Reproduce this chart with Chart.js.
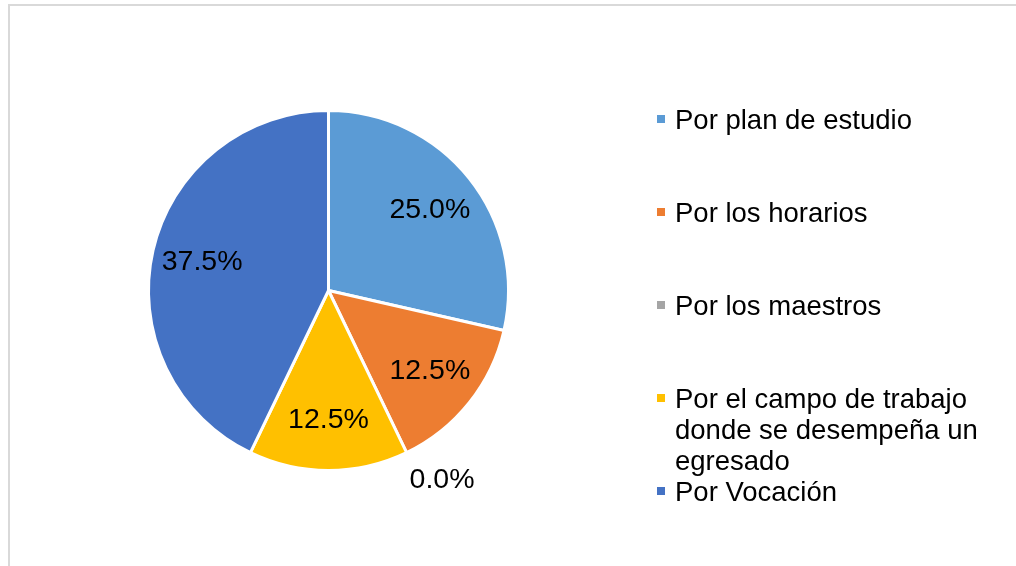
<!DOCTYPE html>
<html>
<head>
<meta charset="utf-8">
<script src="https://cdn.jsdelivr.net/npm/chart.js@4"></script>
<style>
  html, body { margin: 0; padding: 0; background: #fff; overflow: hidden; }
  #frame { position: absolute; left: 8px; top: 4px; width: 1300px; height: 700px; border: 2px solid #d9d9d9; }
  #wrap { position: absolute; left: 0; top: 0; width: 1016px; height: 566px; }
</style>
</head>
<body>
<div id="frame"></div>
<div id="wrap"><canvas id="chart"></canvas></div>
<script>
const categories = ["Por plan de estudio", "Por los horarios", "Por los maestros", "Por el campo de trabajo donde se desempeña un egresado", "Por Vocación"]
// legend lines, wrapped like the original
const legendLines = [["Por plan de estudio"], ["Por los horarios"], ["Por los maestros"], ["Por el campo de trabajo", "donde se desempeña un", "egresado"], ["Por Vocación"]]
const percents = [25.0, 12.5, 0.0, 12.5, 37.5]
const colors = ["#5B9BD5", "#ED7D31", "#A5A5A5", "#FFC000", "#4472C4"]

const fontFamily = "'Liberation Sans', Arial, sans-serif"

// draws the % labels on the slices and the legend on the right
const labelsPlugin = {
    id: "sliceLabels",
    afterDraw(chart) {
        const ctx = chart.ctx
        const meta = chart.getDatasetMeta(0)
        ctx.save()
        ctx.fillStyle = "#000"
        ctx.font = "28.5px " + fontFamily
        meta.data.forEach((arc, i) => {
            const v = percents[i]
            const txt = v.toFixed(1) + "%"
            const mid = (arc.startAngle + arc.endAngle) / 2
            if (v === 0) {
                // zero slice: label sits just outside the pie
                const ex = arc.x + Math.cos(mid) * arc.outerRadius
                const ey = arc.y + Math.sin(mid) * arc.outerRadius
                ctx.textAlign = "left"
                ctx.textBaseline = "top"
                ctx.fillText(txt, ex + 3, ey + 13)
            } else {
                const r = arc.outerRadius * 0.72
                ctx.textAlign = "center"
                ctx.textBaseline = "middle"
                ctx.fillText(txt, arc.x + Math.cos(mid) * r, arc.y + Math.sin(mid) * r)
            }
        })

        // legend
        ctx.font = "27.5px " + fontFamily
        const lx = 657, ly = 121, step = 93, lineH = 31
        ctx.textAlign = "left"
        ctx.textBaseline = "middle"
        legendLines.forEach((lines, i) => {
            const y = ly + i * step
            ctx.fillStyle = colors[i]
            ctx.fillRect(lx, y - 6, 8, 8)
            ctx.fillStyle = "#000"
            lines.forEach((t, j) => ctx.fillText(t, lx + 18, y + j * lineH))
        })
        ctx.restore()
    }
}

new Chart(document.getElementById("chart"), {
    type: "pie",
    data: {
        labels: categories,
        datasets: [{
            data: percents,
            backgroundColor: colors,
            borderColor: "#fff",
            borderWidth: 3
        }]
    },
    options: {
        responsive: true,
        maintainAspectRatio: false,
        animation: false,
        rotation: 0,
        layout: { padding: { left: 147, right: 506, top: 109, bottom: 94 } },
        plugins: {
            legend: { display: false },
            tooltip: { enabled: false }
        }
    },
    plugins: [labelsPlugin]
})
</script>
</body>
</html>
